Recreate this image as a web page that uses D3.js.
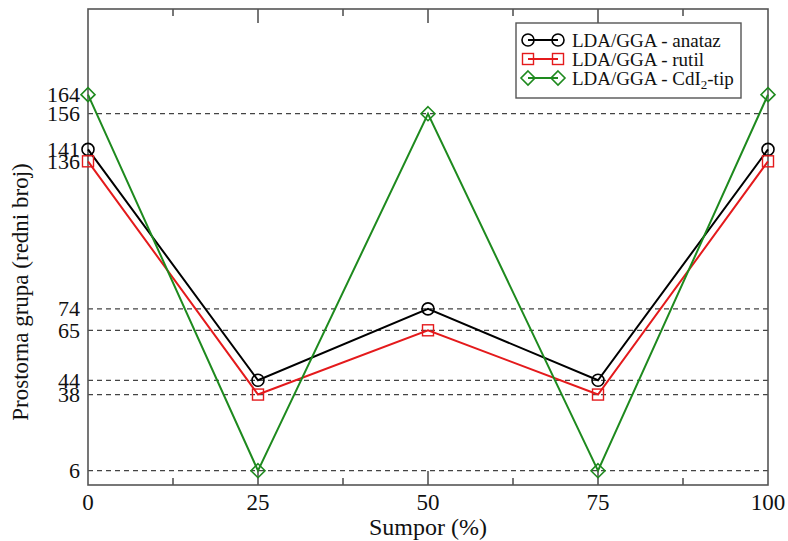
<!DOCTYPE html>
<html><head><meta charset="utf-8">
<script src="https://cdn.jsdelivr.net/npm/d3@7"></script>
<style>body{margin:0;background:#fff}svg{display:block}</style>
</head><body>
<svg id="c" width="788" height="541"></svg>
<script>
const xValues = [0, 25, 50, 75, 100];
const anataz = [141, 44, 74, 44, 141];
const rutil = [136, 38, 65, 38, 136];
const cdi2 = [164, 6, 156, 6, 164];
const yTicks = [6, 38, 44, 65, 74, 136, 141, 156, 164];
const gridValues = [6, 38, 44, 65, 74, 156];
const xTicks = [0, 25, 50, 75, 100];
const xMinorTicks = [12.5, 37.5, 62.5, 87.5];

const svg = d3.select("#c");
const L = 88, R = 768, T = 9, B = 485;
const x = d3.scaleLinear().domain([0, 100]).range([L, R]);
const y = d3.scaleLinear().domain([0, 200]).range([B, T]);
const font = "Liberation Serif, Times New Roman, serif";
const frameCol = "#555";

// grid lines
svg.append("g").selectAll("line").data(gridValues).join("line")
  .attr("x1", L).attr("x2", R).attr("y1", d => y(d)).attr("y2", d => y(d))
  .attr("stroke", "#444").attr("stroke-width", 1.2).attr("stroke-dasharray", "5,4");

// frame
svg.append("rect").attr("x", L).attr("y", T).attr("width", R - L).attr("height", B - T)
  .attr("fill", "none").attr("stroke", frameCol).attr("stroke-width", 1.6);

// inward ticks top & bottom
const tg = svg.append("g").attr("stroke", frameCol).attr("stroke-width", 1.6);
xTicks.slice(1, -1).forEach(v => {
  tg.append("line").attr("x1", x(v)).attr("x2", x(v)).attr("y1", T).attr("y2", T + 14);
  tg.append("line").attr("x1", x(v)).attr("x2", x(v)).attr("y1", B).attr("y2", B - 14);
});
xMinorTicks.forEach(v => {
  tg.append("line").attr("x1", x(v)).attr("x2", x(v)).attr("y1", T).attr("y2", T + 7);
  tg.append("line").attr("x1", x(v)).attr("x2", x(v)).attr("y1", B).attr("y2", B - 7);
});

// x tick labels
svg.append("g").selectAll("text").data(xTicks).join("text")
  .attr("x", d => x(d)).attr("y", 510).attr("text-anchor", "middle")
  .attr("font-family", font).attr("font-size", 23).attr("fill", "#111").text(d => d);

// y tick labels
svg.append("g").selectAll("text").data(yTicks).join("text")
  .attr("x", 80).attr("y", d => y(d)).attr("dy", "0.34em").attr("text-anchor", "end")
  .attr("font-family", font).attr("font-size", 22).attr("fill", "#111").text(d => d);

// axis titles
svg.append("text").attr("x", 428).attr("y", 535).attr("text-anchor", "middle")
  .attr("font-family", font).attr("font-size", 24).attr("fill", "#111").text("Sumpor (%)");
svg.append("text").attr("transform", "translate(28,292) rotate(-90)").attr("text-anchor", "middle")
  .attr("font-family", font).attr("font-size", 23).attr("fill", "#111").text("Prostorna grupa (redni broj)");

const series = [
  {name: "anataz", values: anataz, color: "#000", shape: "circle"},
  {name: "rutil", values: rutil, color: "#e41a1c", shape: "square"},
  {name: "cdi2", values: cdi2, color: "#1e8a1e", shape: "diamond"}
];

function marker(g, shape, cx, cy, color) {
  if (shape === "circle") {
    g.append("circle").attr("cx", cx).attr("cy", cy).attr("r", 6)
      .attr("fill", "none").attr("stroke", color).attr("stroke-width", 1.6);
  } else if (shape === "square") {
    g.append("rect").attr("x", cx - 5.5).attr("y", cy - 5.5).attr("width", 11).attr("height", 11)
      .attr("fill", "none").attr("stroke", color).attr("stroke-width", 1.4);
  } else {
    g.append("path").attr("d", `M${cx},${cy-7}L${cx+7},${cy}L${cx},${cy+7}L${cx-7},${cy}Z`)
      .attr("fill", "none").attr("stroke", color).attr("stroke-width", 1.6);
  }
}

const line = d3.line().x((d, i) => x(xValues[i])).y(d => y(d));
series.forEach(s => {
  const g = svg.append("g");
  g.append("path").datum(s.values).attr("d", line).attr("fill", "none")
    .attr("stroke", s.color).attr("stroke-width", 2);
  s.values.forEach((v, i) => marker(g, s.shape, x(xValues[i]), y(v), s.color));
});

// legend
const lg = svg.append("g");
lg.append("rect").attr("x", 516).attr("y", 23).attr("width", 225).attr("height", 75)
  .attr("fill", "#fff").attr("stroke", frameCol).attr("stroke-width", 1.4);
const legendRows = [
  {s: series[0], y: 40, label: "LDA/GGA - anataz"},
  {s: series[1], y: 59, label: "LDA/GGA - rutil"},
  {s: series[2], y: 78, label: null}
];
legendRows.forEach(r => {
  lg.append("line").attr("x1", 528).attr("x2", 558).attr("y1", r.y).attr("y2", r.y)
    .attr("stroke", r.s.color).attr("stroke-width", 2);
  marker(lg, r.s.shape, 528, r.y, r.s.color);
  marker(lg, r.s.shape, 558, r.y, r.s.color);
  const t = lg.append("text").attr("x", 572).attr("y", r.y).attr("dy", "0.35em")
    .attr("font-family", font).attr("font-size", 19).attr("fill", "#111");
  if (r.label) t.text(r.label);
  else {
    t.append("tspan").text("LDA/GGA - CdI");
    t.append("tspan").attr("font-size", 13).attr("dy", 4).text("2");
    t.append("tspan").attr("dy", -4).text("-tip");
  }
});
</script>
</body></html>
